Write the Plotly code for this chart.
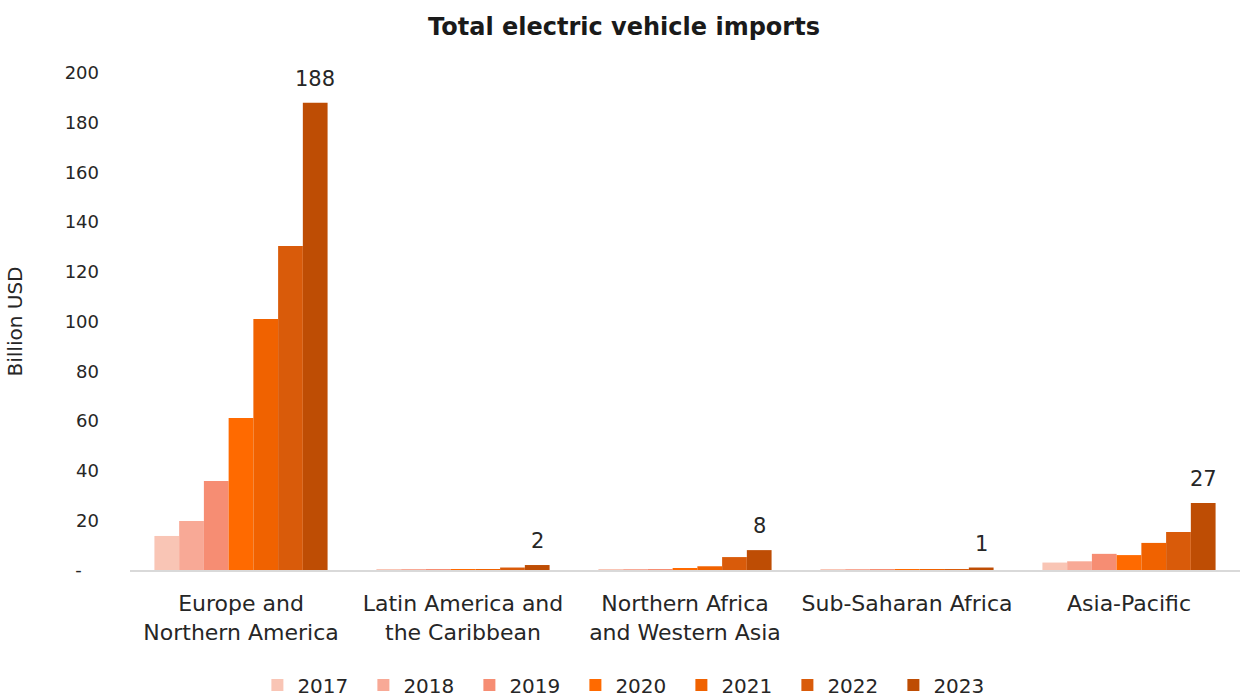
import plotly.graph_objects as go

regions = [
    "Europe and<br>Northern America",
    "Latin America and<br>the Caribbean",
    "Northern Africa<br>and Western Asia",
    "Sub-Saharan Africa",
    "Asia-Pacific",
]
years = ["2017", "2018", "2019", "2020", "2021", "2022", "2023"]

# Billion USD per region, one list per year
imports_2017 = [13.7, 0.05, 0.3, 0.05, 3.0]
imports_2018 = [19.7, 0.05, 0.3, 0.05, 3.5]
imports_2019 = [35.8, 0.1, 0.4, 0.05, 6.5]
imports_2020 = [61.2, 0.1, 0.5, 0.05, 6.0]
imports_2021 = [101.0, 0.4, 1.5, 0.1, 10.9]
imports_2022 = [130.4, 1.0, 5.2, 0.2, 15.3]
imports_2023 = [188, 2, 8, 1, 27]

series = [imports_2017, imports_2018, imports_2019, imports_2020,
          imports_2021, imports_2022, imports_2023]
colors = ["#F9C5B5", "#F8A996", "#F68D73", "#FF6A00", "#F06200", "#D95B0A", "#BE4D04"]

y_ticks = [0, 20, 40, 60, 80, 100, 120, 140, 160, 180, 200]
y_ticktext = ["-\u00a0\u00a0\u00a0"] + [str(v) for v in y_ticks[1:]]

FONT = "DejaVu Sans"
TEXT = "#262626"
BARGAP = 0.22

fig = go.Figure()
for year, vals, col in zip(years, series, colors):
    fig.add_trace(go.Bar(
        name=year, x=regions, y=vals,
        marker=dict(color=col, line=dict(width=0)),
        hoverinfo="x+y+name",
    ))

# value labels above the 2023 bars
n = len(years)
last_offset = (1 - BARGAP) / 2 - (1 - BARGAP) / (2 * n)
for i, v in enumerate(imports_2023):
    fig.add_annotation(
        x=i + last_offset, y=v, xref="x", yref="y",
        text=f"{v:.0f}", showarrow=False, yanchor="bottom", yshift=10,
        font=dict(family=FONT, size=21, color=TEXT),
    )

fig.update_layout(
    width=1248, height=697,
    margin=dict(l=130, r=8, t=73, b=127, autoexpand=False),
    paper_bgcolor="white", plot_bgcolor="white",
    barmode="group", bargap=BARGAP, bargroupgap=0,
    title=dict(text="<b>Total electric vehicle imports</b>", x=0.5, xanchor="center",
               y=1 - 27 / 697, yanchor="middle",
               font=dict(family=FONT, size=24, color="#1a1a1a")),
    font=dict(family=FONT, size=19, color=TEXT),
    showlegend=True,
    legend=dict(orientation="h", x=0.449, xanchor="center", y=1 - 685 / 697, yanchor="middle",
                yref="container", font=dict(family=FONT, size=20, color=TEXT),
                itemwidth=30, entrywidth=61, traceorder="normal"),
)
fig.update_xaxes(
    type="category", showgrid=False, showline=True, linecolor="#D9D9D9", linewidth=2,
    ticks="", ticklabelstandoff=13, tickfont=dict(family=FONT, size=22, color=TEXT),
)
fig.update_yaxes(
    range=[0, 200], tickvals=y_ticks, ticktext=y_ticktext, showgrid=False,
    zeroline=False, showline=False, ticks="", ticklabelstandoff=30,
    tickfont=dict(family=FONT, size=18, color=TEXT),
    title=dict(text="Billion USD", font=dict(family=FONT, size=20, color=TEXT), standoff=36),
)

fig.write_html("out.html")
